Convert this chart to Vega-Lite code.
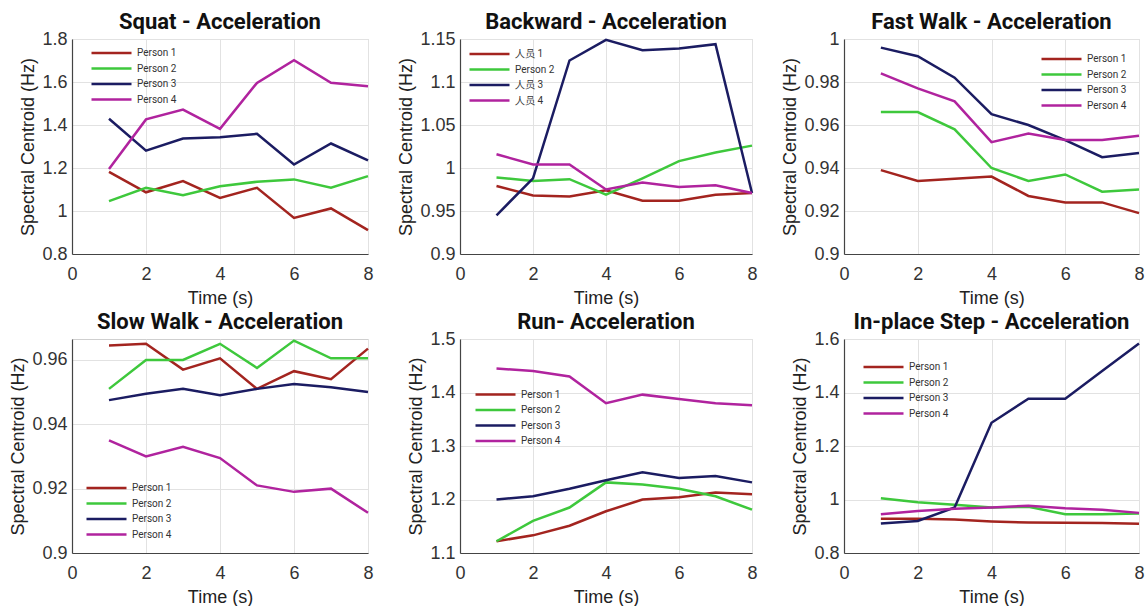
{
  "$schema": "https://vega.github.io/schema/vega-lite/v6.json",
  "padding": {"left": 9, "top": 10, "right": 0, "bottom": 0},
  "background": "white",
  "datasets": {
    "d": [
      {"a":"Squat","p":"Person 1","t":1,"v":1.182},{"a":"Squat","p":"Person 1","t":2,"v":1.087},{"a":"Squat","p":"Person 1","t":3,"v":1.139},{"a":"Squat","p":"Person 1","t":4,"v":1.061},{"a":"Squat","p":"Person 1","t":5,"v":1.108},{"a":"Squat","p":"Person 1","t":6,"v":0.968},{"a":"Squat","p":"Person 1","t":7,"v":1.012},{"a":"Squat","p":"Person 1","t":8,"v":0.911},
      {"a":"Squat","p":"Person 2","t":1,"v":1.046},{"a":"Squat","p":"Person 2","t":2,"v":1.108},{"a":"Squat","p":"Person 2","t":3,"v":1.073},{"a":"Squat","p":"Person 2","t":4,"v":1.115},{"a":"Squat","p":"Person 2","t":5,"v":1.136},{"a":"Squat","p":"Person 2","t":6,"v":1.147},{"a":"Squat","p":"Person 2","t":7,"v":1.108},{"a":"Squat","p":"Person 2","t":8,"v":1.162},
      {"a":"Squat","p":"Person 3","t":1,"v":1.429},{"a":"Squat","p":"Person 3","t":2,"v":1.281},{"a":"Squat","p":"Person 3","t":3,"v":1.337},{"a":"Squat","p":"Person 3","t":4,"v":1.343},{"a":"Squat","p":"Person 3","t":5,"v":1.359},{"a":"Squat","p":"Person 3","t":6,"v":1.216},{"a":"Squat","p":"Person 3","t":7,"v":1.314},{"a":"Squat","p":"Person 3","t":8,"v":1.235},
      {"a":"Squat","p":"Person 4","t":1,"v":1.195},{"a":"Squat","p":"Person 4","t":2,"v":1.426},{"a":"Squat","p":"Person 4","t":3,"v":1.472},{"a":"Squat","p":"Person 4","t":4,"v":1.382},{"a":"Squat","p":"Person 4","t":5,"v":1.596},{"a":"Squat","p":"Person 4","t":6,"v":1.701},{"a":"Squat","p":"Person 4","t":7,"v":1.596},{"a":"Squat","p":"Person 4","t":8,"v":1.580},

      {"a":"Backward","p":"Person 1","t":1,"v":0.979},{"a":"Backward","p":"Person 1","t":2,"v":0.968},{"a":"Backward","p":"Person 1","t":3,"v":0.967},{"a":"Backward","p":"Person 1","t":4,"v":0.974},{"a":"Backward","p":"Person 1","t":5,"v":0.962},{"a":"Backward","p":"Person 1","t":6,"v":0.962},{"a":"Backward","p":"Person 1","t":7,"v":0.969},{"a":"Backward","p":"Person 1","t":8,"v":0.971},
      {"a":"Backward","p":"Person 2","t":1,"v":0.989},{"a":"Backward","p":"Person 2","t":2,"v":0.985},{"a":"Backward","p":"Person 2","t":3,"v":0.987},{"a":"Backward","p":"Person 2","t":4,"v":0.969},{"a":"Backward","p":"Person 2","t":5,"v":0.988},{"a":"Backward","p":"Person 2","t":6,"v":1.008},{"a":"Backward","p":"Person 2","t":7,"v":1.018},{"a":"Backward","p":"Person 2","t":8,"v":1.026},
      {"a":"Backward","p":"Person 3","t":1,"v":0.945},{"a":"Backward","p":"Person 3","t":2,"v":0.988},{"a":"Backward","p":"Person 3","t":3,"v":1.125},{"a":"Backward","p":"Person 3","t":4,"v":1.149},{"a":"Backward","p":"Person 3","t":5,"v":1.137},{"a":"Backward","p":"Person 3","t":6,"v":1.139},{"a":"Backward","p":"Person 3","t":7,"v":1.144},{"a":"Backward","p":"Person 3","t":8,"v":0.971},
      {"a":"Backward","p":"Person 4","t":1,"v":1.016},{"a":"Backward","p":"Person 4","t":2,"v":1.004},{"a":"Backward","p":"Person 4","t":3,"v":1.004},{"a":"Backward","p":"Person 4","t":4,"v":0.975},{"a":"Backward","p":"Person 4","t":5,"v":0.983},{"a":"Backward","p":"Person 4","t":6,"v":0.978},{"a":"Backward","p":"Person 4","t":7,"v":0.980},{"a":"Backward","p":"Person 4","t":8,"v":0.971},

      {"a":"Fast","p":"Person 1","t":1,"v":0.939},{"a":"Fast","p":"Person 1","t":2,"v":0.934},{"a":"Fast","p":"Person 1","t":3,"v":0.935},{"a":"Fast","p":"Person 1","t":4,"v":0.936},{"a":"Fast","p":"Person 1","t":5,"v":0.927},{"a":"Fast","p":"Person 1","t":6,"v":0.924},{"a":"Fast","p":"Person 1","t":7,"v":0.924},{"a":"Fast","p":"Person 1","t":8,"v":0.919},
      {"a":"Fast","p":"Person 2","t":1,"v":0.966},{"a":"Fast","p":"Person 2","t":2,"v":0.966},{"a":"Fast","p":"Person 2","t":3,"v":0.958},{"a":"Fast","p":"Person 2","t":4,"v":0.940},{"a":"Fast","p":"Person 2","t":5,"v":0.934},{"a":"Fast","p":"Person 2","t":6,"v":0.937},{"a":"Fast","p":"Person 2","t":7,"v":0.929},{"a":"Fast","p":"Person 2","t":8,"v":0.930},
      {"a":"Fast","p":"Person 3","t":1,"v":0.996},{"a":"Fast","p":"Person 3","t":2,"v":0.992},{"a":"Fast","p":"Person 3","t":3,"v":0.982},{"a":"Fast","p":"Person 3","t":4,"v":0.965},{"a":"Fast","p":"Person 3","t":5,"v":0.960},{"a":"Fast","p":"Person 3","t":6,"v":0.953},{"a":"Fast","p":"Person 3","t":7,"v":0.945},{"a":"Fast","p":"Person 3","t":8,"v":0.947},
      {"a":"Fast","p":"Person 4","t":1,"v":0.984},{"a":"Fast","p":"Person 4","t":2,"v":0.977},{"a":"Fast","p":"Person 4","t":3,"v":0.971},{"a":"Fast","p":"Person 4","t":4,"v":0.952},{"a":"Fast","p":"Person 4","t":5,"v":0.956},{"a":"Fast","p":"Person 4","t":6,"v":0.953},{"a":"Fast","p":"Person 4","t":7,"v":0.953},{"a":"Fast","p":"Person 4","t":8,"v":0.955},

      {"a":"Slow","p":"Person 1","t":1,"v":0.9645},{"a":"Slow","p":"Person 1","t":2,"v":0.965},{"a":"Slow","p":"Person 1","t":3,"v":0.957},{"a":"Slow","p":"Person 1","t":4,"v":0.9605},{"a":"Slow","p":"Person 1","t":5,"v":0.951},{"a":"Slow","p":"Person 1","t":6,"v":0.9565},{"a":"Slow","p":"Person 1","t":7,"v":0.954},{"a":"Slow","p":"Person 1","t":8,"v":0.9635},
      {"a":"Slow","p":"Person 2","t":1,"v":0.951},{"a":"Slow","p":"Person 2","t":2,"v":0.960},{"a":"Slow","p":"Person 2","t":3,"v":0.960},{"a":"Slow","p":"Person 2","t":4,"v":0.965},{"a":"Slow","p":"Person 2","t":5,"v":0.9575},{"a":"Slow","p":"Person 2","t":6,"v":0.966},{"a":"Slow","p":"Person 2","t":7,"v":0.9605},{"a":"Slow","p":"Person 2","t":8,"v":0.9605},
      {"a":"Slow","p":"Person 3","t":1,"v":0.9475},{"a":"Slow","p":"Person 3","t":2,"v":0.9495},{"a":"Slow","p":"Person 3","t":3,"v":0.951},{"a":"Slow","p":"Person 3","t":4,"v":0.949},{"a":"Slow","p":"Person 3","t":5,"v":0.951},{"a":"Slow","p":"Person 3","t":6,"v":0.9525},{"a":"Slow","p":"Person 3","t":7,"v":0.9515},{"a":"Slow","p":"Person 3","t":8,"v":0.950},
      {"a":"Slow","p":"Person 4","t":1,"v":0.935},{"a":"Slow","p":"Person 4","t":2,"v":0.930},{"a":"Slow","p":"Person 4","t":3,"v":0.933},{"a":"Slow","p":"Person 4","t":4,"v":0.9295},{"a":"Slow","p":"Person 4","t":5,"v":0.921},{"a":"Slow","p":"Person 4","t":6,"v":0.919},{"a":"Slow","p":"Person 4","t":7,"v":0.920},{"a":"Slow","p":"Person 4","t":8,"v":0.9125},

      {"a":"Run","p":"Person 1","t":1,"v":1.122},{"a":"Run","p":"Person 1","t":2,"v":1.133},{"a":"Run","p":"Person 1","t":3,"v":1.151},{"a":"Run","p":"Person 1","t":4,"v":1.178},{"a":"Run","p":"Person 1","t":5,"v":1.200},{"a":"Run","p":"Person 1","t":6,"v":1.204},{"a":"Run","p":"Person 1","t":7,"v":1.213},{"a":"Run","p":"Person 1","t":8,"v":1.210},
      {"a":"Run","p":"Person 2","t":1,"v":1.122},{"a":"Run","p":"Person 2","t":2,"v":1.160},{"a":"Run","p":"Person 2","t":3,"v":1.185},{"a":"Run","p":"Person 2","t":4,"v":1.232},{"a":"Run","p":"Person 2","t":5,"v":1.228},{"a":"Run","p":"Person 2","t":6,"v":1.220},{"a":"Run","p":"Person 2","t":7,"v":1.206},{"a":"Run","p":"Person 2","t":8,"v":1.181},
      {"a":"Run","p":"Person 3","t":1,"v":1.200},{"a":"Run","p":"Person 3","t":2,"v":1.206},{"a":"Run","p":"Person 3","t":3,"v":1.220},{"a":"Run","p":"Person 3","t":4,"v":1.236},{"a":"Run","p":"Person 3","t":5,"v":1.251},{"a":"Run","p":"Person 3","t":6,"v":1.240},{"a":"Run","p":"Person 3","t":7,"v":1.244},{"a":"Run","p":"Person 3","t":8,"v":1.232},
      {"a":"Run","p":"Person 4","t":1,"v":1.445},{"a":"Run","p":"Person 4","t":2,"v":1.440},{"a":"Run","p":"Person 4","t":3,"v":1.430},{"a":"Run","p":"Person 4","t":4,"v":1.380},{"a":"Run","p":"Person 4","t":5,"v":1.396},{"a":"Run","p":"Person 4","t":6,"v":1.388},{"a":"Run","p":"Person 4","t":7,"v":1.380},{"a":"Run","p":"Person 4","t":8,"v":1.376},

      {"a":"Step","p":"Person 1","t":1,"v":0.928},{"a":"Step","p":"Person 1","t":2,"v":0.928},{"a":"Step","p":"Person 1","t":3,"v":0.925},{"a":"Step","p":"Person 1","t":4,"v":0.918},{"a":"Step","p":"Person 1","t":5,"v":0.914},{"a":"Step","p":"Person 1","t":6,"v":0.913},{"a":"Step","p":"Person 1","t":7,"v":0.912},{"a":"Step","p":"Person 1","t":8,"v":0.909},
      {"a":"Step","p":"Person 2","t":1,"v":1.005},{"a":"Step","p":"Person 2","t":2,"v":0.990},{"a":"Step","p":"Person 2","t":3,"v":0.980},{"a":"Step","p":"Person 2","t":4,"v":0.970},{"a":"Step","p":"Person 2","t":5,"v":0.973},{"a":"Step","p":"Person 2","t":6,"v":0.945},{"a":"Step","p":"Person 2","t":7,"v":0.945},{"a":"Step","p":"Person 2","t":8,"v":0.948},
      {"a":"Step","p":"Person 3","t":1,"v":0.910},{"a":"Step","p":"Person 3","t":2,"v":0.920},{"a":"Step","p":"Person 3","t":3,"v":0.970},{"a":"Step","p":"Person 3","t":4,"v":1.287},{"a":"Step","p":"Person 3","t":5,"v":1.377},{"a":"Step","p":"Person 3","t":6,"v":1.377},{"a":"Step","p":"Person 3","t":7,"v":1.480},{"a":"Step","p":"Person 3","t":8,"v":1.583},
      {"a":"Step","p":"Person 4","t":1,"v":0.945},{"a":"Step","p":"Person 4","t":2,"v":0.957},{"a":"Step","p":"Person 4","t":3,"v":0.965},{"a":"Step","p":"Person 4","t":4,"v":0.970},{"a":"Step","p":"Person 4","t":5,"v":0.977},{"a":"Step","p":"Person 4","t":6,"v":0.967},{"a":"Step","p":"Person 4","t":7,"v":0.962},{"a":"Step","p":"Person 4","t":8,"v":0.950}
    ]
  },
  "columns": 3,
  "spacing": {"row": 85, "column": 92},
  "bounds": "flush",
  "resolve": {"scale": {"y": "independent", "x": "independent"}, "axis": {"x": "independent", "y": "independent"}, "legend": {"color": "independent"}},
  "concat": [
    {
      "title": {"text": "Squat - Acceleration", "offset": -4},
      "width": 296, "height": 215,
      "data": {"name": "d"},
      "transform": [{"filter": "datum.a == 'Squat'"}],
      "mark": {"type": "line"},
      "encoding": {
        "x": {"field": "t", "type": "quantitative", "scale": {"domain": [0, 8]}, "axis": {"values": [0,2,4,6,8], "title": "Time (s)"}},
        "y": {"field": "v", "type": "quantitative", "scale": {"domain": [0.8, 1.8], "zero": false, "nice": false}, "axis": {"values": [0.8,1.0,1.2,1.4,1.6,1.8], "title": "Spectral Centroid (Hz)"}},
        "color": {"field": "p", "type": "nominal", "scale": {"domain": ["Person 1","Person 2","Person 3","Person 4"], "range": ["#a3241f","#3ec83c","#1b1c62","#b0239e"]}, "legend": {"orient": "none", "legendX": 18, "legendY": 8.5}}
      }
    },
    {
      "title": {"text": "Backward - Acceleration", "offset": -4},
      "width": 292, "height": 215,
      "data": {"name": "d"},
      "transform": [{"filter": "datum.a == 'Backward'"}],
      "mark": {"type": "line"},
      "encoding": {
        "x": {"field": "t", "type": "quantitative", "scale": {"domain": [0, 8]}, "axis": {"values": [0,2,4,6,8], "title": "Time (s)"}},
        "y": {"field": "v", "type": "quantitative", "scale": {"domain": [0.9, 1.15], "zero": false, "nice": false}, "axis": {"values": [0.9,0.95,1.0,1.05,1.1,1.15], "title": "Spectral Centroid (Hz)"}},
        "color": {"field": "p", "type": "nominal", "scale": {"domain": ["Person 1","Person 2","Person 3","Person 4"], "range": ["#a3241f","#3ec83c","#1b1c62","#b0239e"]}, "legend": {"orient": "none", "legendX": 8, "legendY": 9.5, "labelExpr": "datum.label == 'Person 2' ? 'Person 2' : replace(datum.label, 'Person ', '人员 ')"}}
      }
    },
    {
      "title": {"text": "Fast Walk - Acceleration", "offset": -4},
      "width": 295, "height": 215,
      "data": {"name": "d"},
      "transform": [{"filter": "datum.a == 'Fast'"}],
      "mark": {"type": "line"},
      "encoding": {
        "x": {"field": "t", "type": "quantitative", "scale": {"domain": [0, 8]}, "axis": {"values": [0,2,4,6,8], "title": "Time (s)"}},
        "y": {"field": "v", "type": "quantitative", "scale": {"domain": [0.9, 1.0], "zero": false, "nice": false}, "axis": {"values": [0.9,0.92,0.94,0.96,0.98,1.0], "title": "Spectral Centroid (Hz)"}},
        "color": {"field": "p", "type": "nominal", "scale": {"domain": ["Person 1","Person 2","Person 3","Person 4"], "range": ["#a3241f","#3ec83c","#1b1c62","#b0239e"]}, "legend": {"orient": "none", "legendX": 196, "legendY": 14.5}}
      }
    },
    {
      "title": {"text": "Slow Walk - Acceleration", "offset": 2},
      "width": 296, "height": 214,
      "data": {"name": "d"},
      "transform": [{"filter": "datum.a == 'Slow'"}],
      "mark": {"type": "line"},
      "encoding": {
        "x": {"field": "t", "type": "quantitative", "scale": {"domain": [0, 8]}, "axis": {"values": [0,2,4,6,8], "title": "Time (s)"}},
        "y": {"field": "v", "type": "quantitative", "scale": {"domain": [0.9, 0.9665], "zero": false, "nice": false}, "axis": {"values": [0.9,0.92,0.94,0.96], "title": "Spectral Centroid (Hz)"}},
        "color": {"field": "p", "type": "nominal", "scale": {"domain": ["Person 1","Person 2","Person 3","Person 4"], "range": ["#a3241f","#3ec83c","#1b1c62","#b0239e"]}, "legend": {"orient": "none", "legendX": 13, "legendY": 143.5}}
      }
    },
    {
      "title": {"text": "Run- Acceleration", "offset": -4},
      "width": 292, "height": 214,
      "data": {"name": "d"},
      "transform": [{"filter": "datum.a == 'Run'"}],
      "mark": {"type": "line"},
      "encoding": {
        "x": {"field": "t", "type": "quantitative", "scale": {"domain": [0, 8]}, "axis": {"values": [0,2,4,6,8], "title": "Time (s)"}},
        "y": {"field": "v", "type": "quantitative", "scale": {"domain": [1.1, 1.5], "zero": false, "nice": false}, "axis": {"values": [1.1,1.2,1.3,1.4,1.5], "title": "Spectral Centroid (Hz)"}},
        "color": {"field": "p", "type": "nominal", "scale": {"domain": ["Person 1","Person 2","Person 3","Person 4"], "range": ["#a3241f","#3ec83c","#1b1c62","#b0239e"]}, "legend": {"orient": "none", "legendX": 14, "legendY": 50}}
      }
    },
    {
      "title": {"text": "In-place Step - Acceleration", "offset": -4},
      "width": 295, "height": 214,
      "data": {"name": "d"},
      "transform": [{"filter": "datum.a == 'Step'"}],
      "mark": {"type": "line"},
      "encoding": {
        "x": {"field": "t", "type": "quantitative", "scale": {"domain": [0, 8]}, "axis": {"values": [0,2,4,6,8], "title": "Time (s)"}},
        "y": {"field": "v", "type": "quantitative", "scale": {"domain": [0.8, 1.6], "zero": false, "nice": false}, "axis": {"values": [0.8,1.0,1.2,1.4,1.6], "title": "Spectral Centroid (Hz)"}},
        "color": {"field": "p", "type": "nominal", "scale": {"domain": ["Person 1","Person 2","Person 3","Person 4"], "range": ["#a3241f","#3ec83c","#1b1c62","#b0239e"]}, "legend": {"orient": "none", "legendX": 18, "legendY": 22.5}}
      }
    }
  ],
  "config": {
    "view": {"stroke": "#cfcfcf", "strokeWidth": 1},
    "line": {"strokeWidth": 2.5},
    "axis": {
      "grid": true, "gridColor": "#e2e2e2", "gridWidth": 1,
      "domainColor": "#444", "domainWidth": 1.2,
      "ticks": false,
      "labelFont": "Liberation Sans", "labelFontSize": 18, "labelColor": "#333", "labelPadding": 5,
      "labelFlush": false, "labelOverlap": false, "format": "~g",
      "titleFont": "Liberation Sans", "titleFontSize": 18, "titleFontWeight": "normal", "titleColor": "#222"
    },
    "axisX": {"labelPadding": 11, "titlePadding": 6},
    "axisY": {"titlePadding": 4},
    "title": {"font": "Roboto", "fontSize": 22, "fontWeight": "bold", "color": "#111"},
    "legend": {
      "title": null, "symbolType": "stroke", "symbolSize": 1600, "symbolStrokeWidth": 2.5,
      "clipHeight": 11,
      "labelFont": "Roboto", "labelFontSize": 10, "labelColor": "#333",
      "rowPadding": 4.5, "labelOffset": 4
    }
  }
}
